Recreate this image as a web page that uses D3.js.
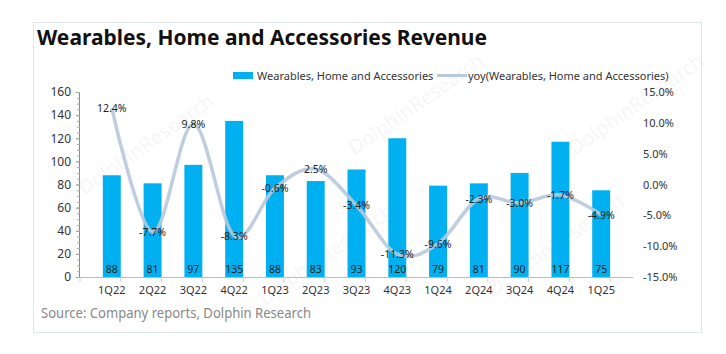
<!DOCTYPE html>
<html>
<head>
<meta charset="utf-8">
<script src="https://cdn.jsdelivr.net/npm/d3@7"></script>
<style>
  body { margin: 0; background: #fff; }
  svg { font-family: "Noto Sans", "DejaVu Sans", sans-serif; }
</style>
</head>
<body>
<div id="chart"></div>
<script>
// data
var quarters = ["1Q22","2Q22","3Q22","4Q22","1Q23","2Q23","3Q23","4Q23","1Q24","2Q24","3Q24","4Q24","1Q25"]
var revenue = [88,81,97,135,88,83,93,120,79,81,90,117,75]
var yoy = [12.4,-7.7,9.8,-8.3,-0.6,2.5,-3.4,-11.3,-9.6,-2.3,-3.0,-1.7,-4.9]
var leftTicks = [0,20,40,60,80,100,120,140,160]
var rightTicks = [-15,-10,-5,0,5,10,15]

var W = 726, H = 354
var svg = d3.select("#chart").append("svg").attr("width", W).attr("height", H)

// outer frame
svg.append("rect").attr("x", 33.5).attr("y", 22.5).attr("width", 668).attr("height", 310)
    .style("fill", "#fff").style("stroke", "#dde6ee")

svg.append("text").attr("x", 37).attr("y", 45)
    .style("font-size", "22px").style("font-weight", "bold").style("fill", "#111")
    .attr("textLength", 450).attr("lengthAdjust", "spacingAndGlyphs")
    .text("Wearables, Home and Accessories Revenue")

// faint watermarks
var wm = [[150,150],[420,110],[640,110],[330,260],[560,250]]
wm.forEach(function(p){
    svg.append("text").attr("transform", "translate(" + p[0] + "," + p[1] + ") rotate(-35)")
        .style("font-size", "20px").style("fill", "#000").style("opacity", 0.03)
        .attr("text-anchor", "middle").text("DolphinResearch")
})

var pLeft = 80, pRight = 633, pTop = 92, pBottom = 277

var x = d3.scaleBand().domain(quarters).range([pLeft, pRight]).padding(0.56)
var y = d3.scaleLinear().domain([0, 160]).range([pBottom, pTop])
var y2 = d3.scaleLinear().domain([-15, 15]).range([pBottom, pTop])

// bars
svg.selectAll(".bar").data(revenue).enter().append("rect")
    .attr("class", "bar")
    .attr("x", function(d, i){ return x(quarters[i]) })
    .attr("y", function(d){ return y(d) })
    .attr("width", x.bandwidth())
    .attr("height", function(d){ return y(0) - y(d) })
    .style("fill", "#00b0f0")

// bar value labels near the bottom
svg.selectAll(".barlab").data(revenue).enter().append("text")
    .attr("x", function(d, i){ return x(quarters[i]) + x.bandwidth()/2 })
    .attr("y", pBottom - 4)
    .attr("text-anchor", "middle")
    .style("font-size", "10.5px").style("fill", "#222")
    .text(function(d){ return d })

// left axis
var gl = svg.append("g").attr("transform", "translate(" + pLeft + ",0)")
    .call(d3.axisLeft(y).tickValues(leftTicks).tickSize(4).tickPadding(5))
gl.selectAll("text").style("font-size", "12px").style("fill", "#333").style("font-family", "Noto Sans")
gl.selectAll("line, path").style("stroke", "#888")
gl.select(".domain").attr("d", "M-0.5," + pTop + "V" + pBottom)
// minor ticks
gl.selectAll(".minor").data(d3.range(0, 161, 5)).enter().append("line")
    .attr("x1", -3).attr("x2", 0).attr("y1", function(d){ return y(d) + 0.5 }).attr("y2", function(d){ return y(d) + 0.5 })
    .style("stroke", "#aaa")

// right axis labels only
var gr = svg.append("g").attr("transform", "translate(640,0)")
    .call(d3.axisRight(y2).tickValues(rightTicks).tickSize(0).tickPadding(3)
        .tickFormat(function(d){ return d.toFixed(1) + "%" }))
gr.select(".domain").remove()
gr.selectAll("text").style("font-size", "11px").style("fill", "#333").style("font-family", "Noto Sans")

// bottom axis
var gb = svg.append("g").attr("transform", "translate(0," + pBottom + ")")
    .call(d3.axisBottom(x).tickSize(0).tickPadding(9))
gb.select(".domain").attr("d", "M" + pLeft + ",0.5H" + pRight).style("stroke", "#bbb")
gb.selectAll("text").style("font-size", "11px").style("fill", "#333").style("font-family", "Noto Sans")
var step = x.step()
gb.selectAll(".sep").data(d3.range(quarters.length + 1)).enter().append("line")
    .attr("x1", function(d){ return pLeft + d * step }).attr("x2", function(d){ return pLeft + d * step })
    .attr("y1", 0).attr("y2", 5).style("stroke", "#ccc")

// yoy smoothed line (Excel-like smoothing)
var line = d3.line()
    .x(function(d, i){ return x(quarters[i]) + x.bandwidth()/2 })
    .y(function(d){ return y2(d) })
    .curve(d3.curveCardinal.tension(0))
svg.append("path").datum(yoy).attr("d", line)
    .style("fill", "none").style("stroke", "#b7c9dd").style("stroke-width", 3.5)
    .style("opacity", 0.9)

svg.selectAll(".yoylab").data(yoy).enter().append("text")
    .attr("x", function(d, i){ return x(quarters[i]) + x.bandwidth()/2 })
    .attr("y", function(d){ return y2(d) + 4 })
    .attr("text-anchor", "middle")
    .style("font-size", "10.5px").style("fill", "#222")
    .text(function(d){ return d.toFixed(1) + "%" })

// legend
var lg = svg.append("g")
lg.append("rect").attr("x", 233).attr("y", 72).attr("width", 20).attr("height", 7).style("fill", "#00b0f0")
lg.append("text").attr("x", 257).attr("y", 80).style("font-size", "11px").style("fill", "#333")
    .text("Wearables, Home and Accessories")
lg.append("line").attr("x1", 437).attr("x2", 467).attr("y1", 75.5).attr("y2", 75.5)
    .style("stroke", "#b7c9dd").style("stroke-width", 3)
lg.append("text").attr("x", 468).attr("y", 80).style("font-size", "11px").style("fill", "#333")
    .text("yoy(Wearables, Home and Accessories)")

svg.append("text").attr("x", 41).attr("y", 318)
    .style("font-size", "14px").style("fill", "#888")
    .attr("textLength", 270).attr("lengthAdjust", "spacingAndGlyphs")
    .text("Source: Company reports, Dolphin Research")
</script>
</body>
</html>
